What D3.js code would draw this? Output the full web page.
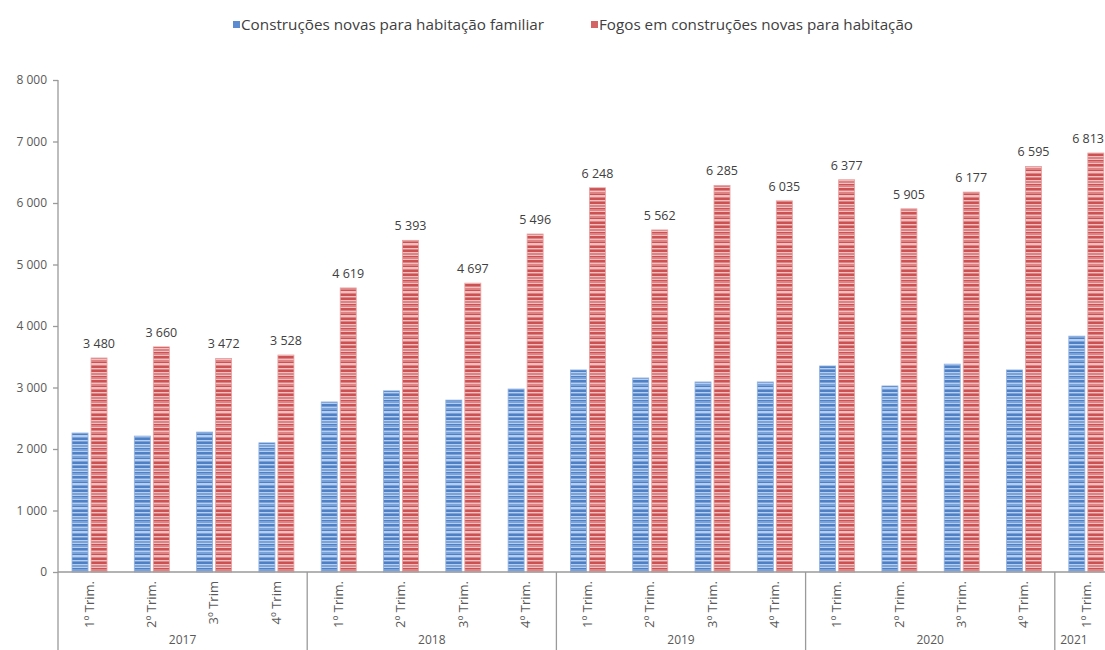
<!DOCTYPE html>
<html>
<head>
<meta charset="utf-8">
<script src="https://cdn.jsdelivr.net/npm/d3@7"></script>
<style>
  html, body { margin: 0; padding: 0; background: #ffffff; }
  svg { display: block; font-family: "Open Sans", "Liberation Sans", sans-serif; }
</style>
</head>
<body>
<svg id="chart" width="1105" height="650"></svg>
<script>
// ---- data ----
const periods = ["2017-T1","2017-T2","2017-T3","2017-T4",
                 "2018-T1","2018-T2","2018-T3","2018-T4",
                 "2019-T1","2019-T2","2019-T3","2019-T4",
                 "2020-T1","2020-T2","2020-T3","2020-T4",
                 "2021-T1"];
const quarterLabels = ["1º Trim.","2º Trim.","3º Trim","4º Trim",
                       "1º Trim.","2º Trim.","3º Trim.","4º Trim.",
                       "1º Trim.","2º Trim.","3º Trim.","4º Trim.",
                       "1º Trim.","2º Trim.","3º Trim.","4º Trim.",
                       "1º Trim."];
const years = ["2017","2018","2019","2020","2021"];
const quartersPerYear = [4,4,4,4,1];
const seriesNames = ["Construções novas para habitação familiar",
                     "Fogos em construções novas para habitação"];
const construcoes = [2260,2210,2275,2100,2765,2945,2795,2975,3285,3155,3090,3090,3350,3025,3380,3285,3835];
const fogos = [3480,3660,3472,3528,4619,5393,4697,5496,6248,5562,6285,6035,6377,5905,6177,6595,6813];
const yTicks = [0,1000,2000,3000,4000,5000,6000,7000,8000];

// ---- layout ----
const W = 1105, H = 650;
const svg = d3.select("#chart");
const plotLeft = 58, plotTop = 80, plotBottom = 572, step = 62.3;
const fmt = d3.formatLocale({decimal: ",", thousands: " ", grouping: [3], currency: ["", "€"]}).format(",d");

const x0 = d3.scaleBand().domain(periods).range([plotLeft, plotLeft + step * periods.length]).padding(0);
const x1 = d3.scaleBand().domain(seriesNames)
  .range([0.225 * x0.bandwidth(), 0.787 * x0.bandwidth()]).paddingInner(0.158).paddingOuter(0);
const y = d3.scaleLinear().domain([0, 8000]).range([plotBottom, plotTop]);

// ---- patterns (striped fills) ----
const defs = svg.append("defs");
const stripeSpec = [
  [0,2,"d"],[2,1,"m"],[3,1,"l"],[4,2,"m"],[6,1,"d"],[7,2,"l"],[9,1,"m"],[10,2,"d"],
  [12,1,"l"],[13,1,"m"],[14,2,"d"],[16,1,"l"],[17,2,"m"],[19,1,"l"],[20,1,"d"],[21,2,"m"],[23,1,"l"]
];
const palettes = {
  blue: {d: "#4f80c4", m: "#7aa2da", l: "#b6cef0"},
  red:  {d: "#cb5152", m: "#df8283", l: "#f2c0c0"}
};
Object.entries(palettes).forEach(([name, pal]) => {
  const p = defs.append("pattern").attr("id", "pat-" + name)
    .attr("patternUnits", "userSpaceOnUse").attr("width", 20).attr("height", 24)
    .attr("y", plotBottom);
  p.append("rect").attr("width", 20).attr("height", 24).attr("fill", pal.m);
  stripeSpec.forEach(([yy, h, k]) => {
    p.append("rect").attr("x", 0).attr("y", yy).attr("width", 20).attr("height", h).attr("fill", pal[k]);
  });
});
const fills = {[seriesNames[0]]: "url(#pat-blue)", [seriesNames[1]]: "url(#pat-red)"};
const edge = {[seriesNames[0]]: "#8fb0e0", [seriesNames[1]]: "#e8a0a0"};
const legendColor = {[seriesNames[0]]: "#5b8bd0", [seriesNames[1]]: "#d36566"};

// ---- y axis ----
const yAxis = svg.append("g").attr("transform", `translate(${plotLeft},0)`)
  .call(d3.axisLeft(y).tickValues(yTicks).tickFormat(fmt).tickSize(5).tickPadding(6));
yAxis.select(".domain").attr("stroke", "#9a9a9a").attr("stroke-width", 1.3).attr("d", `M0,${plotTop}V${plotBottom}`);
yAxis.selectAll(".tick line").attr("stroke", "#9a9a9a").attr("stroke-width", 1.3);
yAxis.selectAll(".tick text").attr("fill", "#595959").attr("font-size", "12px")
  .attr("font-family", "'Open Sans', sans-serif");

// ---- bars ----
const rows = periods.map((p, i) => ({period: p, values: [construcoes[i], fogos[i]]}));
const groups = svg.append("g").selectAll("g").data(rows).join("g")
  .attr("transform", d => `translate(${x0(d.period)},0)`);
groups.selectAll("rect").data(d => d.values.map((v, k) => ({s: seriesNames[k], v})))
  .join("rect")
  .attr("x", d => x1(d.s))
  .attr("width", x1.bandwidth())
  .attr("y", d => y(d.v))
  .attr("height", d => y(0) - y(d.v))
  .attr("fill", d => fills[d.s])
  .attr("stroke", d => edge[d.s])
  .attr("stroke-width", 0.8);

// value labels on red bars (kept inside the picture)
groups.append("text")
  .attr("x", x1(seriesNames[1]) + x1.bandwidth() / 2)
  .attr("y", (d) => y(d.values[1]) - 10)
  .attr("text-anchor", "middle")
  .attr("font-size", "12.5px")
  .attr("fill", "#404040")
  .text(d => fmt(d.values[1]))
  .each(function(d) {
    const cx = x0(d.period) + x1(seriesNames[1]) + x1.bandwidth() / 2;
    const half = this.getComputedTextLength() / 2;
    if (cx + half > W - 1) d3.select(this).attr("x", (W - 1 - half) - x0(d.period));
  });

// ---- x axis ----
const xAxis = svg.append("g").attr("transform", `translate(0,${plotBottom})`)
  .call(d3.axisBottom(x0).tickSize(0).tickFormat((d, i) => quarterLabels[i]));
xAxis.select(".domain").attr("stroke", "#9a9a9a").attr("stroke-width", 1.3)
  .attr("d", `M${plotLeft},0H${W}`);
xAxis.selectAll(".tick text")
  .attr("transform", "rotate(-90)")
  .attr("x", -9).attr("y", 0).attr("dy", "0.35em")
  .attr("text-anchor", "end")
  .attr("fill", "#595959").attr("font-size", "13px")
  .attr("font-family", "'Open Sans', sans-serif");

// year dividers and labels
let idx = 0;
const yearSpans = years.map((yr, k) => {
  const start = x0(periods[idx]);
  idx += quartersPerYear[k];
  const end = x0(periods[idx - 1]) + x0.bandwidth();
  return {yr, start, end};
});
const yg = svg.append("g");
yg.selectAll("line").data([yearSpans[0].start, ...yearSpans.map(s => s.end)]).join("line")
  .attr("x1", d => d).attr("x2", d => d)
  .attr("y1", plotBottom).attr("y2", H)
  .attr("stroke", "#9a9a9a").attr("stroke-width", 1.3);
yg.selectAll("text").data(yearSpans).join("text")
  .attr("x", d => (d.start + d.end) / 2)
  .attr("y", 644)
  .attr("text-anchor", "middle")
  .attr("fill", "#595959").attr("font-size", "12px")
  .text(d => d.yr);
// 2021 label sits under its single visible quarter
yg.selectAll("text").filter(d => d.yr === "2021")
  .attr("x", d => x0(periods[periods.length - 1]) + x0.bandwidth() / 2 - 12);

// ---- legend ----
const legendX = [233, 591];
const legendLen = [303, 314];
const lg = svg.append("g");
seriesNames.forEach((s, k) => {
  lg.append("rect").attr("x", legendX[k]).attr("y", 21).attr("width", 7).attr("height", 7)
    .attr("fill", legendColor[s]);
  lg.append("text").attr("x", legendX[k] + 8).attr("y", 30)
    .attr("fill", "#404040").attr("font-size", "14px")
    .attr("textLength", legendLen[k]).attr("lengthAdjust", "spacingAndGlyphs")
    .text(s);
});
</script>
</body>
</html>
